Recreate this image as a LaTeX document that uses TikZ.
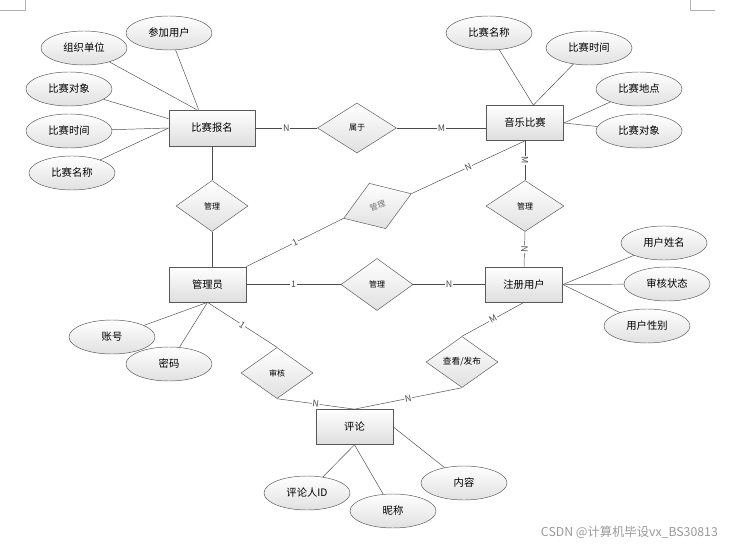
\documentclass[tikz,border=0pt]{standalone}
\usepackage{fontspec}
\setmainfont{Noto Sans CJK SC}
\usetikzlibrary{positioning}
\usetikzlibrary{calc, shapes.geometric, shadows}

\begin{document}
\begin{tikzpicture}[x=0.03cm, y=-0.03cm,
    entity/.style={
        rectangle, draw=black!65, semithick,
        top color=white, bottom color=black!13,
        drop shadow={shadow xshift=0.7pt, shadow yshift=-0.7pt, fill=black!45, opacity=0.6},
        minimum width=2.31cm, minimum height=1.05cm,
        inner sep=0pt, font=\fontsize{8.8}{10}\selectfont
    },
    attr/.style={
        ellipse, draw=black!65,
        top color=white, bottom color=black!12,
        minimum width=2.58cm, minimum height=1.02cm,
        inner sep=0pt, font=\fontsize{8.8}{10}\selectfont
    },
    rel/.style={
        diamond, draw=black!65,
        top color=white, bottom color=black!12,
        minimum width=2.16cm, minimum height=1.53cm,
        inner sep=0pt, font=\fontsize{6.8}{8}\selectfont
    },
    edge/.style={black!70},
    card/.style={fill=white, inner sep=0.6pt, sloped, font=\fontsize{7.6}{8}\selectfont}
]
    \useasboundingbox (0,0) rectangle (740,545);
    % page corner marks
    \draw[black!30] (0,10) -- (25,10) -- (25,0);
    \draw[black!30] (690,0) -- (690,10) -- (715,10);

    % entities
    \node[entity, minimum width=2.58cm, minimum height=1.08cm] (bm) at (212,128) {比赛报名};
    \node[entity] (ms) at (525,123) {音乐比赛};
    \node[entity] (gly) at (207.5,284.5) {管理员};
    \node[entity] (zc) at (524,284.5) {注册用户};
    \node[entity] (pl) at (354.5,427) {评论};

    % attributes of 比赛报名
    \node[attr] (cjyh) at (169,33) {参加用户};
    \node[attr] (zzdw) at (84,48) {组织单位};
    \node[attr] (bsdx1) at (69,89) {比赛对象};
    \node[attr] (bssj1) at (69,131) {比赛时间};
    \node[attr] (bsmc1) at (72,173) {比赛名称};
    % attributes of 音乐比赛
    \node[attr] (bsmc2) at (489,33) {比赛名称};
    \node[attr] (bssj2) at (589,48) {比赛时间};
    \node[attr] (bsdd) at (639,89) {比赛地点};
    \node[attr] (bsdx2) at (639,131) {比赛对象};
    % attributes of 注册用户
    \node[attr] (yhxm) at (664,243) {用户姓名};
    \node[attr] (shzt) at (667,284) {审核状态};
    \node[attr] (yhxb) at (647,326) {用户性别};
    % attributes of 管理员
    \node[attr] (zh) at (112,337) {账号};
    \node[attr] (mm) at (169,364) {密码};
    % attributes of 评论
    \node[attr] (plr) at (307,493) {评论人ID};
    \node[attr] (nc) at (393,511) {昵称};
    \node[attr] (nr) at (464,483) {内容};

    % relations
    \node[rel, minimum width=2.37cm, minimum height=1.5cm] (sy) at (357,128) {属于};
    \node[rel] (gl1) at (212,206) {管理};
    \node[rel, minimum width=2.34cm] (gl2) at (525,206) {管理};
    \node[rel, rotate=20, text=black!55, minimum height=1.45cm] (gl3) at (377.5,206) {管理};
    \node[rel, minimum height=1.56cm] (gl4) at (377,284.5) {管理};
    \node[rel] (sh) at (277,373) {审核};
    \node[rel, font=\fontsize{7.4}{8}\selectfont] (ck) at (462,362) {查看/发布};

    % attribute edges
    \draw[edge] (cjyh) -- (bm.126);
    \draw[edge] (zzdw) -- (bm.130);
    \draw[edge] (bsdx1) -- (bm.168);
    \draw[edge] (bssj1) -- (bm.west);
    \draw[edge] (bsmc1) -- (bm.west);
    \draw[edge] (bsmc2) -- (ms.65);
    \draw[edge] (bssj2) -- (ms.65);
    \draw[edge] (bsdd) -- (ms.east);
    \draw[edge] (bsdx2) -- (ms.east);
    \draw[edge] (yhxm) -- (zc.east);
    \draw[edge] (shzt) -- (zc.east);
    \draw[edge] (yhxb) -- (zc.east);
    \draw[edge] (zh) -- (gly.south);
    \draw[edge] (mm) -- (gly.south);
    \draw[edge] (plr) -- (pl.south);
    \draw[edge] (nc) -- (pl.south);
    \draw[edge] (nr) -- (pl.east);

    % relation edges
    \draw[edge] (bm.east) -- node[card] {N} (sy.west);
    \draw[edge] (sy.east) -- node[card] {M} (sy.east -| ms.west);
    \draw[edge] (bm.south -| gl1.north) -- (gl1.north);
    \draw[edge] (gl1.south) -- (gly.north -| gl1.south);
    \draw[edge] (ms.south) -- node[card] {M} (gl2.north);
    \draw[edge] (gl2.south) -- node[card] {N} (zc.north);
    \draw[edge] (gly.north east) -- node[card] {1} (gl3.west);
    \draw[edge] (gl3.east) -- node[card] {N} (ms.south);
    \draw[edge] (gly.east) -- node[card] {1} (gl4.west);
    \draw[edge] (gl4.east) -- node[card] {N} (zc.west);
    \draw[edge] (gly.south) -- node[card] {1} (sh.north);
    \draw[edge] (sh.south) -- node[card] {N} (pl.north);
    \draw[edge] (zc.south) -- node[card] {M} (ck.north);
    \draw[edge] (ck.south) -- node[card] {N} (pl.north);

    % watermark
    \node[text=black!40, font=\fontsize{10.5}{12}\selectfont, anchor=east] (wm) at (722,532) {CSDN @计算机毕设vx\_BS30813};
\end{tikzpicture}
\end{document}
